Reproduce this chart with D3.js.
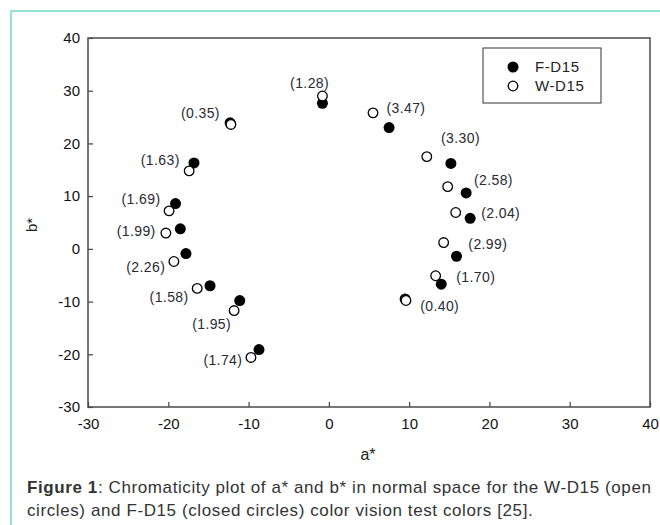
<!DOCTYPE html>
<html>
<head>
<meta charset="utf-8">
<script src="https://cdn.jsdelivr.net/npm/d3@7"></script>
<style>
  body { margin: 0; background: #fff; }
  svg { display: block; font-family: "Liberation Sans", Arial, sans-serif; }
</style>
</head>
<body>
<svg id="chart" width="660" height="525"></svg>
<script>
// colour differences printed beside each pair
const diffLabels = ['(1.28)', '(3.47)', '(3.30)', '(2.58)', '(2.04)', '(2.99)', '(1.70)', '(0.40)',
  '(1.74)', '(1.95)', '(1.58)', '(2.26)', '(1.99)', '(1.69)', '(1.63)', '(0.35)'];

// F-D15 (closed circles)
const fA = [-0.8, 7.5, 15.2, 17.1, 17.6, 15.9, 14.0, 9.5, -8.7, -11.1, -14.8, -17.8, -18.5, -19.1, -16.8, -12.3];
const fB = [27.6, 23.0, 16.2, 10.6, 5.8, -1.4, -6.7, -9.5, -19.1, -9.8, -7.0, -0.9, 3.8, 8.6, 16.3, 23.9];

// W-D15 (open circles)
const wA = [-0.8, 5.5, 12.2, 14.8, 15.8, 14.3, 13.3, 9.6, -9.7, -11.8, -16.4, -19.3, -20.3, -19.9, -17.4, -12.2];
const wB = [29.0, 25.8, 17.5, 11.8, 6.9, 1.2, -5.1, -9.8, -20.6, -11.7, -7.5, -2.4, 3.0, 7.2, 14.8, 23.6];

// where each difference label sits, in a*/b* units
const labA = [-2.4, 9.6, 16.4, 20.5, 21.4, 19.8, 18.3, 13.8, -13.2, -14.6, -19.9, -22.8, -24.0, -23.4, -21.0, -16.0];
const labB = [31.5, 26.7, 21.0, 13.1, 6.7, 0.9, -5.4, -10.8, -21.1, -14.3, -9.2, -3.4, 3.3, 9.5, 16.9, 25.8];

const xTicks = [-30, -20, -10, 0, 10, 20, 30, 40];
const yTicks = [-30, -20, -10, 0, 10, 20, 30, 40];
const seriesNames = ['F-D15', 'W-D15'];

const margin = { top: 38, left: 88, right: 10, bottom: 118 };
const width = 660 - margin.left - margin.right;
const height = 525 - margin.top - margin.bottom;

const svg = d3.select('#chart');

// teal figure border
svg.append('rect')
    .attr('x', 11)
    .attr('y', 11)
    .attr('width', 700)
    .attr('height', 600)
    .attr('fill', 'none')
    .attr('stroke', '#74d7ca')
    .attr('stroke-width', 1.5);

const g = svg.append('g').attr('transform', `translate(${margin.left},${margin.top})`);

const x = d3.scaleLinear().domain([-30, 40]).range([0, width]);
const y = d3.scaleLinear().domain([-30, 40]).range([height, 0]);

const styleAxis = a => {
  a.select('.domain').remove();
  a.selectAll('line').attr('stroke', '#444').attr('stroke-width', 1.2);
  a.selectAll('text')
      .attr('fill', '#111')
      .style('font-size', '15px')
      .style('font-family', 'Liberation Sans, Arial');
};

g.append('g')
    .attr('transform', `translate(0,${height})`)
    .call(d3.axisBottom(x).tickValues(xTicks).tickFormat(d => String(d))
      .tickSize(-5).tickSizeOuter(0).tickPadding(11))
    .call(styleAxis);

g.append('g')
    .call(d3.axisLeft(y).tickValues(yTicks).tickFormat(d => String(d))
      .tickSize(-5).tickSizeOuter(0).tickPadding(8))
    .call(styleAxis);

// plot frame
g.append('rect')
    .attr('width', width)
    .attr('height', height)
    .attr('fill', 'none')
    .attr('stroke', '#4a4a4a')
    .attr('stroke-width', 1.5);

// axis titles
svg.append('text')
    .attr('x', 368)
    .attr('y', 460)
    .attr('text-anchor', 'middle')
    .attr('fill', '#222')
    .style('font-size', '16px')
    .text('a*');

svg.append('text')
    .attr('transform', 'translate(37,225) rotate(-90)')
    .attr('text-anchor', 'middle')
    .attr('fill', '#222')
    .style('font-size', '15px')
    .text('b*');

const idx = d3.range(diffLabels.length);

// closed circles first, open circles drawn on top
g.append('g')
  .selectAll('circle')
  .data(idx)
  .join('circle')
    .attr('cx', i => x(fA[i]))
    .attr('cy', i => y(fB[i]))
    .attr('r', 5.5)
    .attr('fill', '#000');

g.append('g')
  .selectAll('circle')
  .data(idx)
  .join('circle')
    .attr('cx', i => x(wA[i]))
    .attr('cy', i => y(wB[i]))
    .attr('r', 4.8)
    .attr('fill', '#fff')
    .attr('stroke', '#000')
    .attr('stroke-width', 1.3);

g.append('g')
  .selectAll('text')
  .data(idx)
  .join('text')
    .attr('x', i => x(labA[i]))
    .attr('y', i => y(labB[i]))
    .attr('dy', '0.35em')
    .attr('text-anchor', 'middle')
    .attr('fill', '#2a2a33')
    .style('font-size', '14px')
    .style('letter-spacing', '0.4px')
    .text(i => diffLabels[i]);

// legend
const legend = svg.append('g').attr('transform', 'translate(483,48)');

legend.append('rect')
    .attr('width', 118)
    .attr('height', 55)
    .attr('fill', '#fff')
    .attr('stroke', '#333')
    .attr('stroke-width', 1);

legend.selectAll('circle')
  .data(seriesNames)
  .join('circle')
    .attr('cx', 30)
    .attr('cy', (d, i) => 19 + i * 19)
    .attr('r', (d, i) => i === 0 ? 5.5 : 4.8)
    .attr('fill', (d, i) => i === 0 ? '#000' : '#fff')
    .attr('stroke', '#000')
    .attr('stroke-width', (d, i) => i === 0 ? 0 : 1.3);

legend.selectAll('text')
  .data(seriesNames)
  .join('text')
    .attr('x', 52)
    .attr('y', (d, i) => 19 + i * 19)
    .attr('dy', '0.35em')
    .attr('fill', '#222')
    .style('font-size', '15px')
    .style('letter-spacing', '0.6px')
    .text(d => d);

// caption
const caption = svg.append('text')
    .attr('fill', '#333')
    .style('font-size', '17px')
    .style('letter-spacing', '0.6px');

const line1 = caption.append('tspan').attr('x', 27).attr('y', 493);
line1.append('tspan').attr('font-weight', 'bold').text('Figure 1');
line1.append('tspan').text(': Chromaticity plot of a* and b* in normal space for the W-D15 (open');

caption.append('tspan')
    .attr('x', 27)
    .attr('y', 516)
    .text('circles) and F-D15 (closed circles) color vision test colors [25].');
</script>
</body>
</html>
